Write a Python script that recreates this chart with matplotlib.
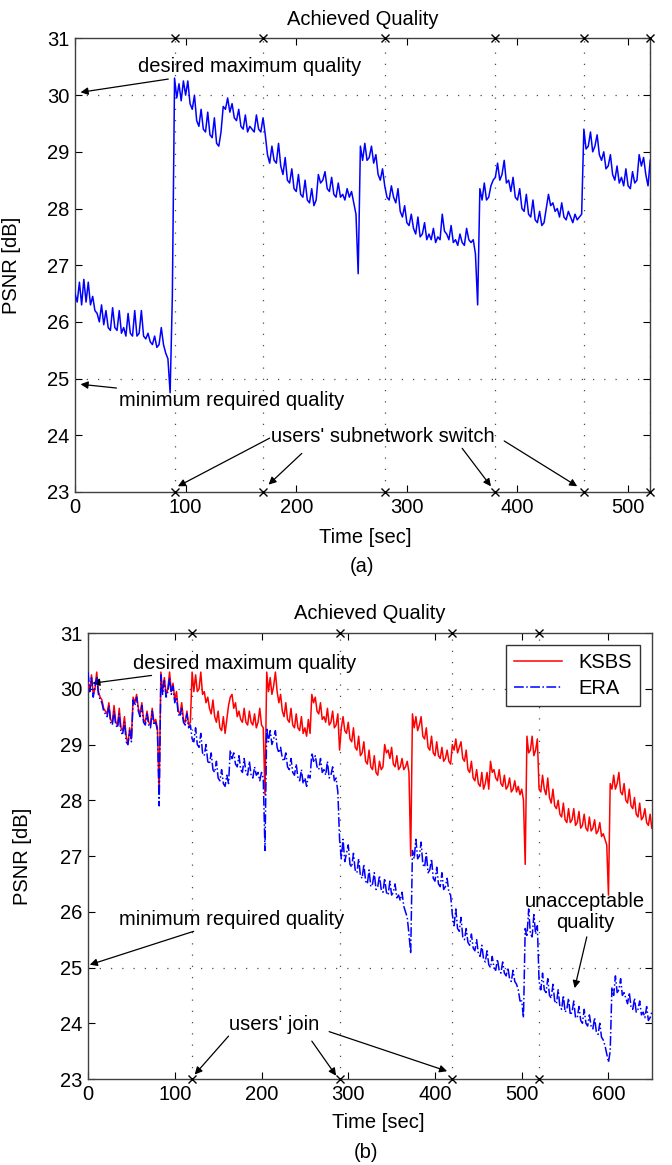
import numpy as np
import matplotlib.pyplot as plt

plt.rcParams['font.family'] = ['Liberation Sans', 'DejaVu Sans']

# ---- panel (a): single user, subnetwork switches ----
time_a = np.arange(0, 521, 2)
psnr_a = [
    26.5, 26.35, 26.7, 26.3, 26.75, 26.35, 26.7, 26.3, 26.45, 26.2,
    26.15, 26.0, 26.3, 25.95, 26.2, 25.9, 25.85, 26.25, 25.9, 25.85,
    26.2, 25.8, 25.9, 25.75, 26.15, 25.8, 25.75, 26.2, 25.75, 25.8,
    26.2, 25.75, 25.7, 25.8, 25.65, 25.6, 25.75, 25.55, 25.6, 25.9,
    25.6, 25.45, 25.35, 24.75, 26.45, 30.3, 29.95, 30.2, 29.9, 30.25,
    30.0, 30.25, 29.85, 29.75, 30.0, 29.55, 29.45, 29.75, 29.4, 29.35,
    29.7, 29.3, 29.25, 29.6, 29.15, 29.1, 29.35, 29.8, 29.75, 29.95,
    29.7, 29.85, 29.6, 29.55, 29.75, 29.45, 29.4, 29.65, 29.35, 29.45,
    29.4, 29.35, 29.65, 29.4, 29.35, 29.6, 29.3, 28.95, 28.8, 29.1,
    28.85, 28.8, 29.15, 28.75, 28.6, 28.9, 28.5, 28.45, 28.7, 28.35,
    28.3, 28.6, 28.25, 28.2, 28.5, 28.15, 28.1, 28.35, 28.05, 28.15,
    28.6, 28.45, 28.5, 28.65, 28.35, 28.3, 28.55, 28.25, 28.2, 28.45,
    28.2, 28.25, 28.15, 28.35, 28.2, 28.3, 28.1, 27.9, 26.85, 29.1,
    28.85, 29.15, 28.85, 28.9, 29.1, 28.8, 28.95, 28.6, 28.5, 28.7,
    28.4, 28.2, 28.15, 28.4, 28.2, 28.1, 28.35, 27.95, 27.85, 28.05,
    27.75, 27.7, 27.9, 27.65, 27.55, 27.85, 27.5, 27.55, 27.75, 27.45,
    27.55, 27.45, 27.65, 27.4, 27.5, 27.45, 27.9, 27.6, 27.55, 27.45,
    27.7, 27.4, 27.45, 27.35, 27.55, 27.4, 27.35, 27.65, 27.45, 27.4,
    27.45, 27.2, 26.3, 28.35, 28.15, 28.45, 28.15, 28.2, 28.4, 28.5,
    28.55, 28.8, 28.5, 28.6, 28.85, 28.45, 28.5, 28.3, 28.55, 28.2,
    28.15, 28.35, 28.0, 27.95, 28.25, 27.9, 27.85, 28.15, 27.8, 27.75,
    27.95, 27.7, 27.75, 28.0, 28.25, 28.05, 28.1, 27.95, 28.0, 27.85,
    28.1, 27.85, 27.8, 27.95, 27.85, 27.75, 27.9, 27.8, 27.85, 27.9,
    29.4, 29.05, 29.1, 29.35, 29.0, 29.1, 29.3, 28.95, 28.85, 29.0,
    28.7, 28.75, 28.95, 28.6, 28.5, 28.75, 28.45, 28.55, 28.4, 28.7,
    28.4, 28.35, 28.65, 28.45, 28.5, 28.95, 28.75, 28.9, 28.6, 28.4,
    28.85,
]
switch_a = [90, 170, 280, 380, 460, 520]

# ---- panel (b): users join, KSBS vs ERA ----
time_b = np.arange(0, 651, 2)
ksbs = [
    30.1, 29.95, 30.25, 29.9, 30.0, 30.3, 29.95, 29.85, 29.8, 29.65,
    29.6, 29.55, 29.75, 29.45, 29.4, 29.7, 29.4, 29.35, 29.65, 29.3,
    29.25, 29.5, 29.15, 29.0, 29.3, 29.1, 29.85, 29.75, 29.9, 29.65,
    29.55, 29.75, 29.45, 29.4, 29.6, 29.4, 29.35, 29.65, 29.4, 29.45,
    29.3, 28.15, 30.3, 29.95, 30.2, 29.9, 30.0, 30.3, 29.95, 30.1,
    29.8, 29.95, 29.6, 29.55, 29.75, 29.45, 29.4, 29.6, 29.35, 29.4,
    30.3, 29.95, 30.25, 29.95, 30.0, 30.3, 29.9, 29.95, 29.75, 29.85,
    29.65, 29.55, 29.8, 29.5, 29.4, 29.6, 29.3, 29.25, 29.5, 29.2,
    29.45, 29.7, 29.85, 29.9, 29.65, 29.75, 29.5, 29.6, 29.45, 29.4,
    29.65, 29.4, 29.35, 29.6, 29.4, 29.35, 29.55, 29.3, 29.4, 29.65,
    29.35, 29.3, 28.1, 30.3, 29.95, 30.2, 29.9, 30.05, 30.3, 29.95,
    29.75, 29.9, 29.6, 29.5, 29.75, 29.45, 29.4, 29.65, 29.35, 29.3,
    29.55, 29.3, 29.25, 29.5, 29.2, 29.3, 29.15, 29.45, 29.2, 29.9,
    29.75, 29.85, 29.6, 29.55, 29.75, 29.45, 29.5, 29.4, 29.65, 29.35,
    29.4, 29.6, 29.3, 29.35, 29.55, 28.9, 29.3, 29.5, 29.25, 29.2,
    29.4, 29.1, 29.05, 29.3, 28.95, 28.9, 29.15, 28.8, 28.85, 29.05,
    28.7, 28.65, 28.9, 28.6, 28.55, 28.8, 28.5, 28.45, 28.7, 28.55,
    28.6, 29.0, 28.85, 28.9, 28.75, 28.95, 28.65, 28.6, 28.8, 28.55,
    28.6, 28.75, 28.55, 28.6, 28.7, 28.5, 27.0, 29.55, 29.3, 29.5,
    29.25, 29.35, 29.5, 29.15, 29.1, 29.3, 28.95, 28.9, 29.15, 28.85,
    28.8, 29.05, 28.8, 28.75, 28.95, 28.7, 28.75, 28.9, 28.7, 28.65,
    29.0, 28.9, 29.1, 28.85, 28.95, 29.05, 28.75, 28.7, 28.9, 28.55,
    28.5, 28.7, 28.4, 28.35, 28.55, 28.3, 28.25, 28.5, 28.2, 28.3,
    28.5, 28.2, 28.7, 28.5, 28.55, 28.4, 28.35, 28.55, 28.3, 28.25,
    28.45, 28.2, 28.25, 28.4, 28.15, 28.2, 28.35, 28.15, 28.25, 28.1,
    28.2, 28.0, 26.85, 29.15, 28.85, 28.9, 29.15, 28.8, 28.9, 29.1,
    28.2, 28.15, 28.45, 28.2, 28.1, 28.4, 28.05, 27.95, 28.2, 27.9,
    27.85, 28.0, 27.75, 27.7, 27.95, 27.65, 27.6, 27.85, 27.6, 27.65,
    27.85, 27.55, 27.6, 27.8, 27.5, 27.55, 27.75, 27.5, 27.45, 27.7,
    27.45, 27.5, 27.65, 27.4, 27.45, 27.6, 27.35, 27.4, 27.3, 27.2,
    26.3, 28.3, 28.2, 28.45, 28.2, 28.3, 28.5, 28.15, 28.1, 28.3,
    28.0, 27.95, 28.2, 27.9, 27.85, 28.05, 27.75, 27.7, 27.95, 27.65,
    27.7, 27.85, 27.6, 27.55, 27.75, 27.5,
]
era = [
    30.3, 29.95, 30.2, 29.85, 30.05, 30.2, 29.9, 29.8, 29.75, 29.6,
    29.55, 29.5, 29.7, 29.4, 29.35, 29.6, 29.35, 29.3, 29.55, 29.2,
    29.2, 29.4, 29.05, 29.0, 29.25, 29.05, 29.8, 29.7, 29.85, 29.6,
    29.5, 29.7, 29.4, 29.35, 29.55, 29.35, 29.3, 29.6, 29.35, 29.4,
    29.25, 27.9, 30.25, 29.9, 30.15, 29.85, 29.95, 30.2, 29.9, 30.05,
    29.75, 29.85, 29.55, 29.5, 29.65, 29.4, 29.35, 29.55, 29.3, 29.35,
    29.1, 29.05, 29.3, 29.0, 28.95, 29.2, 28.85, 28.8, 29.0, 28.7,
    28.65, 28.85, 28.55, 28.5, 28.7, 28.4, 28.35, 28.55, 28.3, 28.25,
    28.45, 28.3, 28.9, 28.75, 28.85, 28.65, 28.6, 28.8, 28.55, 28.5,
    28.75, 28.5, 28.45, 28.7, 28.45, 28.4, 28.6, 28.45, 28.5, 28.35,
    28.5, 28.4, 27.1, 29.3, 29.05, 29.25, 29.0, 29.1, 29.25, 28.95,
    28.85, 28.95, 28.75, 28.7, 28.85, 28.6, 28.55, 28.75, 28.5, 28.45,
    28.65, 28.4, 28.35, 28.55, 28.3, 28.4, 28.25, 28.45, 28.4, 28.85,
    28.7, 28.8, 28.6, 28.55, 28.75, 28.5, 28.55, 28.45, 28.7, 28.4,
    28.45, 28.6, 28.35, 28.4, 28.15, 27.3, 26.95, 27.3, 26.9, 27.05,
    27.2, 26.85, 26.8, 27.05, 26.75, 26.7, 26.95, 26.65, 26.6, 26.85,
    26.55, 26.5, 26.75, 26.45, 26.5, 26.7, 26.4, 26.45, 26.65, 26.4,
    26.35, 26.6, 26.35, 26.3, 26.55, 26.3, 26.35, 26.5, 26.25, 26.3,
    26.2, 26.35, 26.1, 26.0, 25.9, 25.6, 25.25, 27.1, 26.95, 27.3,
    26.95, 27.0, 27.25, 26.85, 26.8, 27.05, 26.7, 26.75, 26.95, 26.6,
    26.55, 26.8, 26.5, 26.45, 26.7, 26.4, 26.45, 26.6, 26.35, 26.3,
    25.95, 25.75, 26.05, 25.7, 25.65, 25.9, 25.55, 25.5, 25.7, 25.45,
    25.4, 25.6, 25.35, 25.3, 25.5, 25.25, 25.2, 25.4, 25.15, 25.1,
    25.3, 25.05, 25.0, 25.2, 25.0, 24.95, 25.15, 24.95, 24.9, 25.1,
    24.9, 24.85, 25.0, 24.8, 24.75, 24.95, 24.75, 24.7, 24.6, 24.4,
    24.4, 24.1, 25.7, 25.55, 26.05, 25.6, 25.55, 25.95, 25.6, 25.75,
    24.75, 24.6, 24.9, 24.6, 24.55, 24.8, 24.5, 24.45, 24.7, 24.4,
    24.35, 24.6, 24.3, 24.25, 24.5, 24.2, 24.25, 24.45, 24.15, 24.2,
    24.4, 24.1, 24.1, 24.3, 24.05, 24.0, 24.25, 24.0, 23.95, 24.15,
    23.95, 23.9, 24.1, 23.85, 23.8, 24.0, 23.75, 23.7, 23.6, 23.45,
    23.3, 23.5, 24.65, 24.5, 24.85, 24.55, 24.6, 24.8, 24.5, 24.55,
    24.45, 24.35, 24.55, 24.3, 24.25, 24.45, 24.2, 24.25, 24.4, 24.15,
    24.2, 24.1, 24.3, 24.05, 24.1, 24.2,
]
join_b = [120, 290, 420, 520]

quality_levels = [25, 30]
dot = (0, (1, 8))
fs = 14.5
H = 1165.0
arrow = dict(arrowstyle='-|>', color='black', lw=0.9, mutation_scale=11, shrinkA=0, shrinkB=0)


def style_axes(ax, xmax, events):
    ax.set_ylim(23, 31)
    ax.set_xlim(0, xmax)
    ax.set_yticks(range(23, 32))
    for x in events:
        ax.axvline(x, color='0.3', lw=0.9, ls=dot, zorder=1)
    for y in quality_levels:
        ax.axhline(y, color='0.3', lw=0.9, ls=dot, zorder=1)
    ax.plot(events, [31] * len(events), 'kx', ms=5.5, mew=1, clip_on=False, zorder=5)
    ax.plot(events, [23] * len(events), 'kx', ms=5.5, mew=1, clip_on=False, zorder=5)
    ax.tick_params(direction='in', top=True, right=True, length=5, labelsize=fs,
                   width=0.8, pad=4)
    for s in ax.spines.values():
        s.set_linewidth(1.0)
        s.set_color('0.25')
    ax.set_title('Achieved Quality', fontsize=fs, pad=10)
    ax.set_ylabel('PSNR [dB]', fontsize=fs)


fig = plt.figure(figsize=(6.72, 11.65), dpi=100)

# panel (a)
ax1 = fig.add_axes([0.1116, 0.5777, 0.856, 0.3893])
ax1.plot(time_a, psnr_a, color='#0000ff', lw=1.1, zorder=3)
style_axes(ax1, 520, switch_a)
ax1.yaxis.set_label_coords(-0.093, 0.5)
ax1.annotate('desired maximum quality', xy=(5, 30.05), xytext=(57, 30.5),
             fontsize=fs, va='center', arrowprops=arrow)
ax1.annotate('minimum required quality', xy=(5, 24.9), xytext=(40, 24.62),
             fontsize=fs, va='center', arrowprops=arrow)
ax1.text(177, 23.98, "users' subnetwork switch", fontsize=fs, va='center')
ax1.annotate('', xy=(93, 23.1), xytext=(176, 23.95), arrowprops=arrow)
ax1.annotate('', xy=(175, 23.13), xytext=(205, 23.68), arrowprops=arrow)
ax1.annotate('', xy=(376, 23.1), xytext=(350, 23.77), arrowprops=arrow)
ax1.annotate('', xy=(454, 23.1), xytext=(388, 23.9), arrowprops=arrow)
fig.text(365 / 672, 1 - 537 / H, 'Time [sec]', ha='center', va='center', fontsize=fs)
fig.text(362 / 672, 1 - 567 / H, '(a)', ha='center', va='center', fontsize=fs)

# panel (b)
ax2 = fig.add_axes([0.131, 0.0738, 0.839, 0.3828])
ax2.plot(time_b, ksbs, color='#ff0000', lw=1.1, zorder=3, label='KSBS')
ax2.plot(time_b, era, color='#0000ff', lw=1.1, ls='-.', zorder=4, label='ERA')
style_axes(ax2, 650, join_b)
ax2.yaxis.set_label_coords(-0.1, 0.5)
leg = ax2.legend(loc='upper right', fontsize=fs, fancybox=False, framealpha=1,
                 edgecolor='0.2', borderaxespad=0.6, handlelength=2.4,
                 borderpad=0.4, labelspacing=0.35)
leg.get_frame().set_linewidth(1.0)
ax2.annotate('desired maximum quality', xy=(5, 30.1), xytext=(52, 30.46),
             fontsize=fs, va='center', arrowprops=arrow)
ax2.annotate('minimum required quality', xy=(2, 25.05), xytext=(36, 25.87),
             fontsize=fs, va='center', arrowprops=arrow)
ax2.text(162, 23.98, "users' join", fontsize=fs, va='center')
ax2.annotate('', xy=(123, 23.08), xytext=(162, 23.77), arrowprops=arrow)
ax2.annotate('', xy=(286, 23.06), xytext=(258, 23.68), arrowprops=arrow)
ax2.annotate('', xy=(414, 23.14), xytext=(278, 23.85), arrowprops=arrow)
ax2.text(573, 26.0, 'unacceptable\nquality', fontsize=fs, ha='center', va='center',
         linespacing=1.1)
ax2.annotate('', xy=(561, 24.63), xytext=(575, 25.55), arrowprops=arrow)
fig.text(378 / 672, 1 - 1122 / H, 'Time [sec]', ha='center', va='center', fontsize=fs)
fig.text(366 / 672, 1 - 1153 / H, '(b)', ha='center', va='center', fontsize=fs)

fig.savefig('out.png', dpi=100)
